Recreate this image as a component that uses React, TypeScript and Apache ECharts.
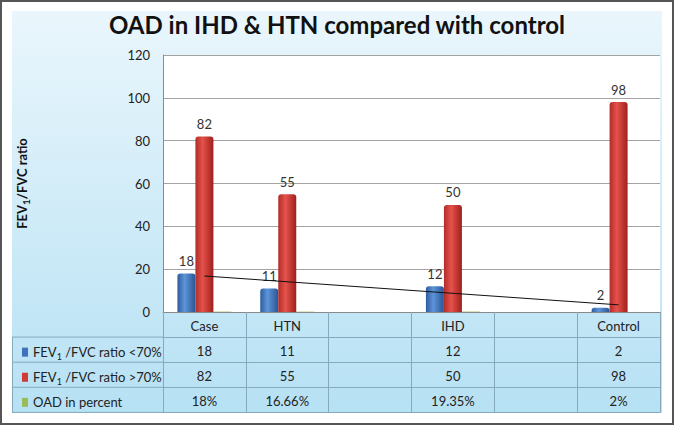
import React, { useEffect, useRef } from 'react';
import * as echarts from 'echarts';

const CATEGORIES = ['Case', 'HTN', '', 'IHD', '', 'Control'];
const RATIO_BELOW_70 = [18, 11, null, 12, null, 2];
const RATIO_ABOVE_70 = [82, 55, null, 50, null, 98];
const OAD_PERCENT = [18, 16.66, null, 19.35, null, 2];
const SERIES_NAMES = ['FEV1 /FVC ratio <70%', 'FEV1 /FVC ratio >70%', 'OAD in percent'];
const Y_MIN = 0;
const Y_MAX = 120;
const Y_INTERVAL = 20;

const FONT = 'Lato, "Open Sans", sans-serif';
const TABLE_LINE = '#86a9bb';
const TEXT = '#222';

const GRID_LEFT = 163;
const GRID_RIGHT = 660;
const GRID_TOP = 55;
const GRID_BOTTOM = 312;
const ROW_H = 25.1;
const BOX_LEFT = 12;

// linear trend of the <70% series over the category positions
function trendEnds(values: (number | null)[]) {
  const pts = values.map((v, i) => [i, v] as [number, number | null]).filter((p) => p[1] != null) as [number, number][];
  const n = pts.length;
  const mx = pts.reduce((s, p) => s + p[0], 0) / n;
  const my = pts.reduce((s, p) => s + p[1], 0) / n;
  let sxy = 0;
  let sxx = 0;
  pts.forEach(([x, y]) => {
    sxy += (x - mx) * (y - my);
    sxx += (x - mx) * (x - mx);
  });
  const b = sxy / sxx;
  const a = my - b * mx;
  return values.map((_, i) => (i === 0 || i === values.length - 1 ? a + b * i : null));
}

const fmtNum = (v: number | null) => (v == null ? '' : String(v));
const fmtPct = (v: number | null) => (v == null ? '' : v + '%');

const TABLE_ROWS: string[][] = [
  RATIO_BELOW_70.map(fmtNum),
  RATIO_ABOVE_70.map(fmtNum),
  OAD_PERCENT.map(fmtPct),
];

function cylinder(edge: string, mid: string, edge2: string) {
  return new echarts.graphic.LinearGradient(0, 0, 1, 0, [
    { offset: 0, color: edge },
    { offset: 0.4, color: mid },
    { offset: 1, color: edge2 },
  ]);
}

const richText = {
  a: { fontSize: 13, fontFamily: FONT, color: TEXT },
  s: { fontSize: 9, fontFamily: FONT, color: TEXT, padding: [8, 0, 0, 0] },
};

function legendLabel(name: string) {
  if (name.startsWith('FEV1')) {
    return '{a|FEV}{s|1}{a|' + name.slice(4) + '}';
  }
  return '{a|' + name + '}';
}

export default function App() {
  const ref = useRef<HTMLDivElement>(null);

  useEffect(() => {
    document.body.style.margin = '0';
    if (!ref.current) return;
    const chart = echarts.init(ref.current, null, { renderer: 'svg' });

    const barLabel = {
      show: true,
      position: 'top',
      distance: 6,
      fontSize: 13,
      fontFamily: FONT,
      color: '#333',
    };

    const tableAxes = [1, 2, 3, 4].map((k) => ({
      type: 'category',
      data: CATEGORIES,
      position: 'bottom',
      offset: ROW_H * k,
      axisLine: { show: true, onZero: false, lineStyle: { color: TABLE_LINE, width: 1 } },
      axisTick: { show: false },
      splitLine: { show: false },
      axisLabel: {
        show: k < 4,
        interval: 0,
        margin: 7,
        fontSize: 13,
        fontFamily: FONT,
        color: TEXT,
        formatter: (_v: string, idx: number) => (k < 4 ? TABLE_ROWS[k - 1][idx] : ''),
      },
    }));

    const leftLines: any[] = [];
    for (let k = 1; k <= 4; k++) {
      const y = GRID_BOTTOM + ROW_H * k;
      leftLines.push({
        type: 'line',
        shape: { x1: BOX_LEFT, y1: y, x2: GRID_LEFT, y2: y },
        style: { stroke: TABLE_LINE, lineWidth: 1 },
        silent: true,
      });
    }
    leftLines.push({
      type: 'line',
      shape: { x1: BOX_LEFT + 0.5, y1: GRID_BOTTOM + ROW_H, x2: BOX_LEFT + 0.5, y2: GRID_BOTTOM + ROW_H * 4 },
      style: { stroke: TABLE_LINE, lineWidth: 1 },
      silent: true,
    });

    const legendColors = ['#3f72bd', '#d23a35', '#9bbb59'];
    const legends = SERIES_NAMES.map((name, k) => ({
      data: [{ name, itemStyle: { color: legendColors[k] } }],
      left: 17,
      top: GRID_BOTTOM + ROW_H * (k + 1) + ROW_H / 2 - 9,
      itemWidth: 6,
      itemHeight: 9,
      icon: 'rect',
      selectedMode: false,
      formatter: legendLabel,
      textStyle: { rich: richText },
    }));

    chart.setOption({
      animation: false,
      backgroundColor: '#ffffff',
      graphic: [
        {
          type: 'rect',
          z: -10,
          shape: { x: 1, y: 1, width: 672, height: 423 },
          style: { fill: '#fff', stroke: '#555', lineWidth: 2 },
          silent: true,
        },
        {
          type: 'rect',
          z: -9,
          shape: { x: BOX_LEFT, y: 11, width: 650, height: 402 },
          style: {
            fill: new echarts.graphic.LinearGradient(0, 0, 0, 1, [
              { offset: 0, color: '#eaf6fc' },
              { offset: 1, color: '#b6e1f4' },
            ]),
          },
          silent: true,
        },
        ...leftLines,
      ],
      title: {
        text: 'OAD in IHD & HTN compared with control',
        left: 'center',
        top: 7,
        textStyle: { fontSize: 24, fontWeight: 'bold', fontFamily: FONT, color: '#111' },
      },
      legend: legends,
      grid: {
        left: GRID_LEFT,
        right: 674 - GRID_RIGHT,
        top: GRID_TOP,
        bottom: 425 - GRID_BOTTOM,
        show: true,
        backgroundColor: '#ffffff',
        borderWidth: 0,
      },
      xAxis: [
        {
          type: 'category',
          data: CATEGORIES,
          position: 'bottom',
          axisLine: { show: true, onZero: false, lineStyle: { color: '#8a8a8a', width: 1 } },
          axisTick: {
            show: true,
            interval: 0,
            alignWithLabel: false,
            length: ROW_H * 4,
            lineStyle: { color: TABLE_LINE, width: 1 },
          },
          axisLabel: { interval: 0, margin: 7, fontSize: 13, fontFamily: FONT, color: TEXT },
          splitLine: { show: false },
        },
        ...tableAxes,
      ],
      yAxis: {
        type: 'value',
        min: Y_MIN,
        max: Y_MAX,
        interval: Y_INTERVAL,
        axisLine: { show: true, lineStyle: { color: '#8a8a8a' } },
        axisTick: { show: false },
        splitLine: { lineStyle: { color: '#a3a3a3', width: 1 } },
        axisLabel: { margin: 13, fontSize: 13, fontFamily: FONT, color: TEXT },
        name: '{b|FEV}{t|1}{b|/FVC ratio}',
        nameLocation: 'middle',
        nameRotate: 90,
        nameGap: 132,
        nameTextStyle: {
          rich: {
            b: { fontSize: 13, fontWeight: 'bold', fontFamily: FONT, color: '#111' },
            t: { fontSize: 10, fontWeight: 'bold', fontFamily: FONT, color: '#111', padding: [8, 0, 0, 0] },
          },
        },
      },
      series: [
        {
          name: SERIES_NAMES[0],
          type: 'bar',
          data: RATIO_BELOW_70,
          barWidth: 18,
          barGap: '0%',
          itemStyle: { color: cylinder('#2d5c9e', '#5d95d8', '#2a5595'), borderRadius: [3, 3, 0, 0] },
          label: barLabel,
        },
        {
          name: SERIES_NAMES[1],
          type: 'bar',
          data: RATIO_ABOVE_70,
          barWidth: 18,
          barGap: '0%',
          itemStyle: { color: cylinder('#b22c28', '#e5524b', '#a01f1c'), borderRadius: [3, 3, 0, 0] },
          label: barLabel,
        },
        {
          name: SERIES_NAMES[2],
          type: 'bar',
          data: OAD_PERCENT.map((v) => (v == null ? null : v / 100)),
          barWidth: 18,
          barGap: '0%',
          itemStyle: { color: '#9bbb59' },
        },
        {
          name: 'trend',
          type: 'line',
          data: trendEnds(RATIO_BELOW_70),
          connectNulls: true,
          showSymbol: false,
          symbol: 'none',
          z: 10,
          lineStyle: { color: '#111', width: 1 },
        },
      ],
    });

    return () => chart.dispose();
  }, []);

  return <div ref={ref} style={{ width: 674, height: 425 }} />;
}
